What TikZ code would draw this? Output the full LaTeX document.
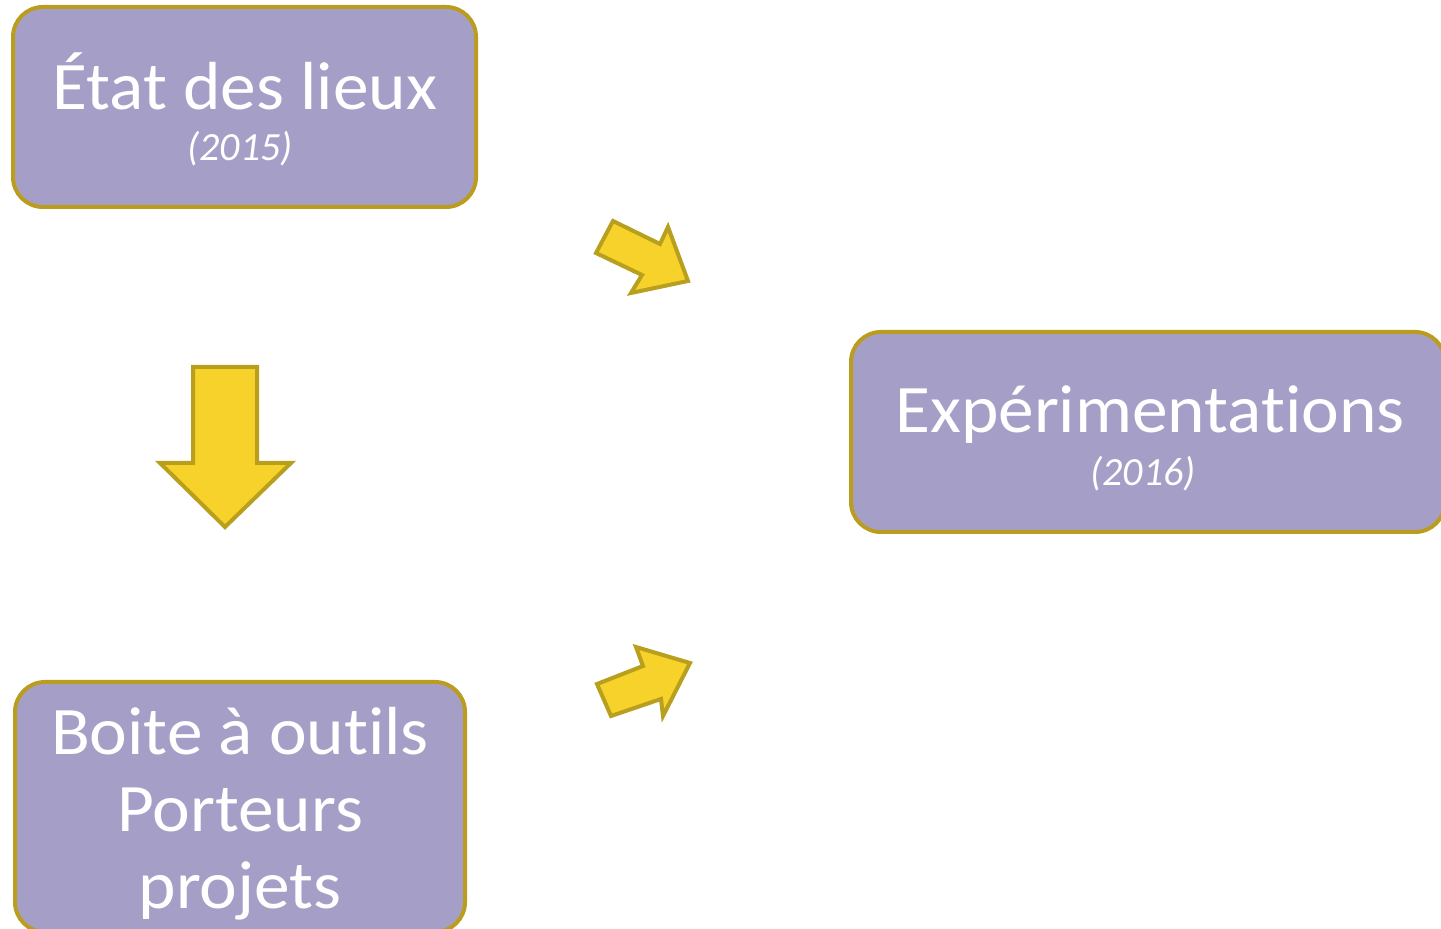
\documentclass[tikz,border=0pt]{standalone}
\usepackage{fontspec}
\setmainfont{Carlito}[Ligatures=NoCommon]
\newfontfamily\widefont{Carlito}[Ligatures=NoCommon,FakeStretch=1.05]
\definecolor{boxfill}{RGB}{165,159,200}
\definecolor{boxline}{RGB}{186,156,30}
\definecolor{arrfill}{RGB}{246,210,42}
\definecolor{arrline}{RGB}{184,160,30}
\tikzset{
  stepbox/.style={draw=boxline, line width=2pt, fill=boxfill, rounded corners=15pt, inner sep=0pt},
  maintext/.style={text=white, font=\widefont\fontsize{34}{40}\selectfont, anchor=base, inner sep=0pt},
  yeartext/.style={text=white, font=\fontsize{20}{24}\selectfont\itshape, anchor=base, inner sep=0pt},
  bigarrow/.style={draw=arrline, line width=2pt, fill=arrfill, line join=miter}
}
\begin{document}
\begin{tikzpicture}[x=0.5pt,y=-0.5pt]
\useasboundingbox (0,0) rectangle (1441,929);
% boxes
\node[stepbox, minimum width=231.5pt, minimum height=100pt] (etat) at (244.5,107) {};
\node[stepbox, minimum width=297pt, minimum height=100pt] (exp) at (1148,432) {};
\node[stepbox, minimum width=225pt, minimum height=125pt] (boite) at (240,807) {};
% texts
\node[maintext] (t1) at (245,110) {État des lieux};
\node[yeartext] (y1) at (240,161) {(2015)};
\node[maintext] (t2) at (1150,433) {Expérimentations};
\node[yeartext] (y2) at (1143,486) {(2016)};
\node[maintext] (t3a) at (240,755) {Boite à outils};
\node[maintext] (t3b) at (240,832) {Porteurs};
\node[maintext] (t3c) at (240,908) {projets};
% arrows
\draw[bigarrow] (193,367) -- (257,367) -- (257,463) -- (291,463) -- (225,527) -- (160,463) -- (193,463) -- cycle;
\draw[bigarrow] (596,253) -- (613,221) -- (660,244) -- (668,227) -- (688,281) -- (631,293) -- (642,275) -- cycle;
\draw[bigarrow] (597,684) -- (611,716) -- (661,699) -- (663,716) -- (690,663) -- (636,647) -- (643,666) -- cycle;
\end{tikzpicture}
\end{document}
